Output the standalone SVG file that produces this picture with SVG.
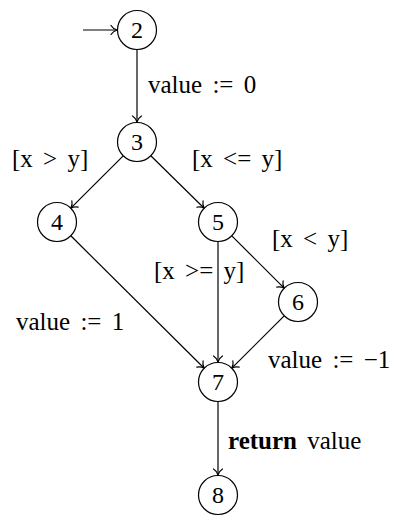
<svg xmlns="http://www.w3.org/2000/svg" width="400" height="516" viewBox="0 0 400 516">
<style>
.n circle{fill:#fff;stroke:#000;stroke-width:1.2}
.n text{font-family:"Liberation Serif",serif;font-size:24px;text-anchor:middle;fill:#000}
.e line{stroke:#000;stroke-width:1.2;fill:none;marker-end:url(#to)}
.l{font-family:"Liberation Serif",serif;font-size:25px;fill:#000;word-spacing:4px}
</style>
<defs>
<marker id="to" markerUnits="userSpaceOnUse" viewBox="-8 -6 10 12" refX="0" refY="0" markerWidth="10" markerHeight="12" orient="auto" overflow="visible">
<path d="M-6,-4.5 C-4.5,-2 -1.5,-0.5 0,0 C-1.5,0.5 -4.5,2 -6,4.5" fill="none" stroke="#000" stroke-width="1.2" stroke-linecap="round"/>
</marker>
</defs>
<g id="connectors" class="e">
<line x1="83" y1="30" x2="117" y2="30"/>
<line x1="137" y1="49.5" x2="137" y2="122"/>
<line x1="123.2" y1="155.8" x2="70.8" y2="208.2"/>
<line x1="150.8" y1="155.8" x2="204.2" y2="208.2"/>
<line x1="70.8" y1="235.8" x2="204.2" y2="368.2"/>
<line x1="218" y1="241.5" x2="218" y2="362"/>
<line x1="231.8" y1="235.8" x2="284.2" y2="288.2"/>
<line x1="284.2" y1="315.8" x2="231.8" y2="368.2"/>
<line x1="218" y1="401.5" x2="218" y2="475"/>
</g>
<g id="n2" class="n"><circle cx="137" cy="30" r="19.5"/><text x="137" y="38">2</text></g>
<g id="n3" class="n"><circle cx="137" cy="142" r="19.5"/><text x="137" y="150">3</text></g>
<g id="n4" class="n"><circle cx="57" cy="222" r="19.5"/><text x="57" y="230">4</text></g>
<g id="n5" class="n"><circle cx="218" cy="222" r="19.5"/><text x="218" y="230">5</text></g>
<g id="n6" class="n"><circle cx="298" cy="302" r="19.5"/><text x="298" y="310">6</text></g>
<g id="n7" class="n"><circle cx="218" cy="382" r="19.5"/><text x="218" y="390">7</text></g>
<g id="n8" class="n"><circle cx="218" cy="495" r="19.5"/><text x="218" y="503">8</text></g>
<g id="labels">
<text class="l" x="148" y="93">value := 0</text>
<text class="l" x="12" y="167">[x &gt; y]</text>
<text class="l" x="192" y="167">[x &lt;= y]</text>
<text class="l" x="272" y="247">[x &lt; y]</text>
<text class="l" x="154" y="279">[x &gt;= y]</text>
<text class="l" x="16" y="330">value := 1</text>
<text class="l" x="268" y="368">value := −1</text>
<text class="l" x="228" y="449"><tspan font-weight="bold">return</tspan> value</text>
</g>
</svg>
